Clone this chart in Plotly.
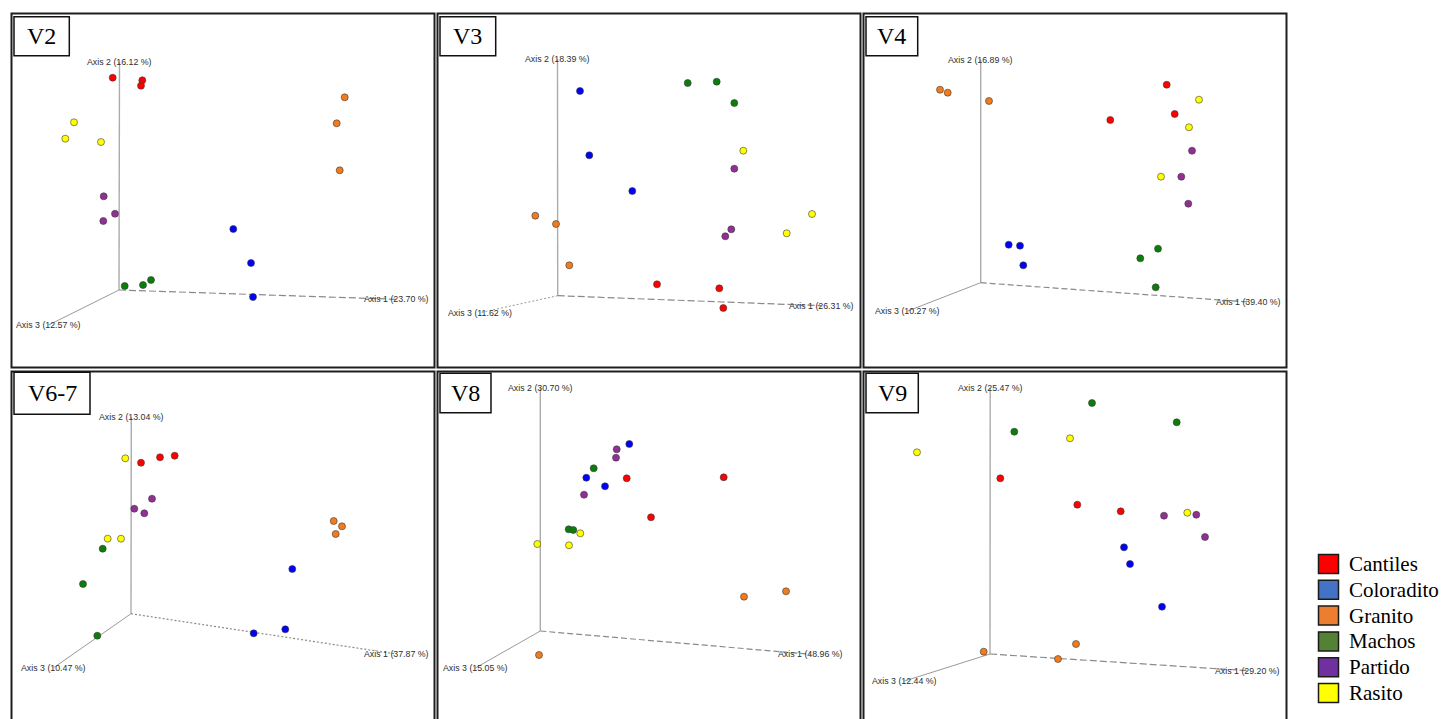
import plotly.graph_objects as go

W, H = 1441, 719

# ---------------------------------------------------------------- data
groups = ["Cantiles", "Coloradito", "Granito", "Machos", "Partido", "Rasito"]
point_colors = ["#ff0000", "#0000ff", "#f27b1c", "#0b7d0b", "#922f94", "#ffff00"]
legend_colors = ["#ff0000", "#4472c4", "#ed7d31", "#548235", "#7030a0", "#ffff00"]

regions = ["V2", "V3", "V4", "V6-7", "V8", "V9"]
axis1_pct = [23.70, 26.31, 39.40, 37.87, 48.96, 29.20]
axis2_pct = [16.12, 18.39, 16.89, 13.04, 30.70, 25.47]
axis3_pct = [12.57, 11.62, 10.27, 10.47, 15.05, 12.44]

# Projected PCoA scores (screen plane: x to the right, y up), per group
v2_points = {
    "Cantiles":   [(-6.3, 212.3), (23.3, 209.7), (22.0, 204.3)],
    "Coloradito": [(114.3, 61.0), (132.0, 27.0), (134.0, -7.0)],
    "Granito":    [(225.7, 192.7), (217.7, 166.7), (220.7, 119.7)],
    "Machos":     [(5.7, 4.0), (24.0, 5.0), (32.0, 10.0)],
    "Partido":    [(-15.3, 93.7), (-4.0, 76.3), (-15.7, 69.0)],
    "Rasito":     [(-45.0, 167.7), (-53.7, 151.3), (-18.0, 148.0)],
}
v3_points = {
    "Cantiles":   [(99.3, 11.4), (161.6, 7.4), (165.6, -12.3)],
    "Coloradito": [(22.3, 204.7), (31.6, 140.4), (74.6, 104.7)],
    "Granito":    [(-22.4, 80.0), (-1.7, 71.7), (11.6, 30.4)],
    "Machos":     [(130.0, 212.7), (159.0, 214.0), (176.6, 192.7)],
    "Partido":    [(176.6, 127.0), (173.6, 66.4), (167.6, 59.4)],
    "Rasito":     [(185.6, 145.0), (254.3, 81.7), (229.0, 62.4)],
}
v4_points = {
    "Cantiles":   [(186.0, 198.0), (194.0, 168.7), (129.6, 162.7)],
    "Coloradito": [(28.0, 38.0), (39.3, 37.0), (42.6, 17.4)],
    "Granito":    [(-40.7, 193.0), (-33.0, 190.0), (8.3, 181.7)],
    "Machos":     [(177.3, 34.0), (159.6, 24.4), (175.0, -4.6)],
    "Partido":    [(211.3, 132.0), (200.6, 106.0), (207.6, 79.0)],
    "Rasito":     [(218.3, 183.0), (208.3, 155.4), (180.3, 106.0)],
}
v67_points = {
    "Cantiles":   [(10.0, 151.0), (29.0, 156.4), (43.7, 158.0)],
    "Coloradito": [(161.3, 44.7), (154.3, -15.6), (122.7, -19.6)],
    "Granito":    [(202.7, 92.7), (211.0, 87.4), (204.7, 79.7)],
    "Machos":     [(-28.3, 65.0), (-48.0, 29.7), (-33.7, -22.0)],
    "Partido":    [(21.0, 115.0), (3.3, 105.0), (13.3, 100.4)],
    "Rasito":     [(-5.7, 155.4), (-23.3, 75.0), (-10.0, 75.0)],
}
v8_points = {
    "Cantiles":   [(86.4, 152.7), (183.4, 153.7), (110.7, 113.7)],
    "Coloradito": [(89.0, 187.0), (46.0, 153.3), (64.7, 144.7)],
    "Granito":    [(245.7, 39.7), (203.7, 34.3), (-1.3, -24.0)],
    "Machos":     [(53.4, 162.7), (28.4, 101.7), (33.0, 101.0)],
    "Partido":    [(76.4, 181.7), (75.7, 173.3), (43.7, 136.3)],
    "Rasito":     [(40.0, 97.7), (-3.0, 87.0), (28.7, 85.7)],
}
v9_points = {
    "Cantiles":   [(10.3, 175.7), (87.3, 149.3), (130.7, 142.7)],
    "Coloradito": [(134.0, 106.7), (140.0, 90.0), (172.0, 47.3)],
    "Granito":    [(-6.3, 2.3), (86.0, 10.0), (68.0, -5.0)],
    "Machos":     [(24.3, 222.3), (102.0, 251.0), (186.7, 231.7)],
    "Partido":    [(174.0, 138.3), (206.3, 139.3), (215.0, 117.0)],
    "Rasito":     [(-73.0, 201.7), (80.0, 215.7), (197.3, 141.3)],
}
region_points = [v2_points, v3_points, v4_points, v67_points, v8_points, v9_points]

# Projected tips of the three ordination axes
axis1_tip = [(277.3, -9.3), (263.6, -10.0), (267.3, -19.3), (265.3, -40.3), (270.2, -23.3), (257.7, -16.7)]
axis2_tip = [(0.5, 228.3), (-0.2, 236.7), (0.0, 223.0), (0.3, 196.4), (0.0, 243.3), (0.2, 266.3)]
axis3_tip = [(-70.3, -35.0), (-77.7, -17.0), (-72.9, -28.3), (-77.3, -54.0), (-65.0, -37.0), (-85.5, -27.0)]

# ---------------------------------------------------------------- layout geometry (pixels)
col_edges = [(11.5, 434.5), (437.5, 860.5), (863.5, 1286.5)]
row_edges = [(13.5, 367.5), (371.5, 740.0)]
origins = [(119.0, 290.0), (557.7, 295.7), (980.7, 282.7),
           (131.0, 613.7), (540.3, 631.0), (990.0, 654.0)]
tag_boxes = [(14, 16.7, 69.3, 55.7), (440, 16.7, 495.7, 55.7), (866, 16.7, 917.7, 55.7),
             (14, 372.3, 90, 414.3), (440, 373.3, 491, 412.7), (866, 373.3, 918.3, 412.7)]
axis1_dash = ["7px,3px", "7px,3px", "6px,3px", "2px,2px", "6px,3px", "7px,3px"]
axis3_dash = ["solid", "2px,2px", "solid", "solid", "solid", "solid"]


def px(x):
    return x / W


def py(y):
    return 1 - y / H


fig = go.Figure()
shapes = []
annotations = []
layout_axes = {}

for k in range(6):
    n = k + 1
    xa = "x" if n == 1 else f"x{n}"
    ya = "y" if n == 1 else f"y{n}"
    L, R = col_edges[k % 3]
    T, B = row_edges[k // 3]
    Bc = min(B, H)
    ox, oy = origins[k]

    layout_axes["xaxis" if n == 1 else f"xaxis{n}"] = dict(
        domain=[px(L), px(R)], range=[L - ox, R - ox], visible=False,
        fixedrange=True, anchor=ya)
    layout_axes["yaxis" if n == 1 else f"yaxis{n}"] = dict(
        domain=[py(Bc), py(T)], range=[oy - Bc, oy - T], visible=False,
        fixedrange=True, anchor=xa)

    # ordination axes
    a1x, a1y = axis1_tip[k]
    a2x, a2y = axis2_tip[k]
    a3x, a3y = axis3_tip[k]
    fig.add_trace(go.Scatter(x=[0, a2x], y=[0, a2y], mode="lines", xaxis=xa, yaxis=ya,
                             line=dict(color="#ababab", width=1.4), showlegend=False,
                             hoverinfo="skip"))
    fig.add_trace(go.Scatter(x=[0, a3x], y=[0, a3y], mode="lines", xaxis=xa, yaxis=ya,
                             line=dict(color="#9a9a9a", width=1.0, dash=axis3_dash[k]),
                             showlegend=False, hoverinfo="skip"))
    fig.add_trace(go.Scatter(x=[0, a1x], y=[0, a1y], mode="lines", xaxis=xa, yaxis=ya,
                             line=dict(color="#8a8a8a", width=1.2, dash=axis1_dash[k]),
                             showlegend=False, hoverinfo="skip"))

    label_font = dict(family="Liberation Sans, Arial", size=8.8, color="#2e2e2e")
    for (tx, ty), txt in [((a1x, a1y), f"Axis 1 ({axis1_pct[k]:.2f} %)"),
                          ((a2x, a2y), f"Axis 2 ({axis2_pct[k]:.2f} %)"),
                          ((a3x, a3y), f"Axis 3 ({axis3_pct[k]:.2f} %)")]:
        annotations.append(dict(x=tx, y=ty, xref=xa, yref=ya, text=txt, showarrow=False,
                                xanchor="center", yanchor="middle", font=label_font))

    # samples
    pts = region_points[k]
    for g, col in zip(groups, point_colors):
        xs = [p[0] for p in pts[g]]
        ys = [p[1] for p in pts[g]]
        fig.add_trace(go.Scatter(x=xs, y=ys, mode="markers", xaxis=xa, yaxis=ya, name=g,
                                 marker=dict(size=7, color=col,
                                             line=dict(color="#3a3a3a", width=0.6)),
                                 showlegend=False, cliponaxis=False))

    # panel frame
    shapes.append(dict(type="rect", xref="paper", yref="paper",
                       x0=px(L), x1=px(R), y0=py(B), y1=py(T),
                       line=dict(color="#1e1e1e", width=2), fillcolor="rgba(0,0,0,0)",
                       layer="above"))
    # region tag
    bx0, by0, bx1, by1 = tag_boxes[k]
    shapes.append(dict(type="rect", xref="paper", yref="paper",
                       x0=px(bx0), x1=px(bx1), y0=py(by1), y1=py(by0),
                       line=dict(color="#111111", width=1.5), fillcolor="white",
                       layer="above"))
    annotations.append(dict(x=px((bx0 + bx1) / 2), y=py((by0 + by1) / 2), xref="paper",
                            yref="paper", text=regions[k], showarrow=False,
                            xanchor="center", yanchor="middle",
                            font=dict(family="Liberation Serif, Times New Roman",
                                      size=24, color="black")))

# legend
legend_top = 564.0
legend_step = 25.8
for i, (g, col) in enumerate(zip(groups, legend_colors)):
    cy = legend_top + i * legend_step
    shapes.append(dict(type="rect", xref="paper", yref="paper",
                       x0=px(1318.5), x1=px(1338.5), y0=py(cy + 9.5), y1=py(cy - 9.5),
                       line=dict(color="#1a1a1a", width=1.5), fillcolor=col))
    annotations.append(dict(x=px(1346.5), y=py(cy), xref="paper", yref="paper", text=g,
                            showarrow=False, xanchor="left", yanchor="middle",
                            font=dict(family="Liberation Serif, Times New Roman",
                                      size=21, color="black")))

fig.update_layout(
    width=W, height=H, margin=dict(l=0, r=0, t=0, b=0),
    paper_bgcolor="white", plot_bgcolor="white",
    shapes=shapes, annotations=annotations, showlegend=False,
    **layout_axes,
)

fig.write_html("out.html")
